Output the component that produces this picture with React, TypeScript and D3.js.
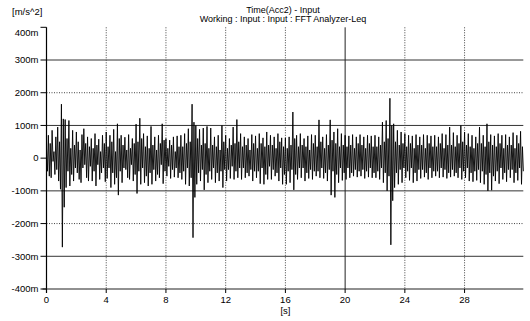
import React from "react";
import * as d3 from "d3";

// Acceleration trace, sampled every 1/16 s (values in m = milli m/s^2), one row per second
const SAMPLE_DT = 1 / 16;
const samples = [
  30, -40, 70, -55, 45, -60, 85, -10, 20, -50, 65, -35, 95, -70, 50, -95,
  165, -272, 120, -150, 118, -90, 60, -40, 115, -85, 30, -50, 85, -70, 40, -30,
  80, -45, 50, -65, 25, -75, 72, -30, 90, -20, 45, -60, 65, -70, 35, -25,
  60, -70, 30, -40, 75, -85, 40, -20, 58, -65, 20, -45, 70, -30, 45, -72,
  80, -62, 35, -30, 70, -90, 50, -45, 88, -80, 20, -60, 105, -113, 60, -40,
  70, -75, 40, -30, 64, -35, 25, -60, 72, -65, 30, -20, 60, -70, 45, -50,
  104, -108, 50, -40, 122, -80, 60, -30, 75, -75, 35, -55, 68, -85, 30, -45,
  97, -80, 40, -35, 65, -70, 25, -50, 70, -60, 45, -20, 105, -78, 55, -40,
  60, -55, 30, -25, 55, -62, 40, -35, 65, -58, 20, -30, 68, -60, 35, -45,
  70, -65, 35, -40, 75, -80, 45, -30, 90, -85, 50, -60, 165, -243, 110, -120,
  100, -80, 60, -45, 88, -70, 40, -35, 92, -97, 45, -50, 97, -75, 30, -40,
  92, -65, 40, -30, 65, -75, 35, -45, 70, -70, 25, -40, 100, -90, 50, -35,
  70, -70, 30, -35, 60, -62, 40, -25, 95, -65, 45, -40, 118, -60, 50, -30,
  75, -65, 35, -30, 65, -60, 40, -45, 60, -55, 25, -35, 72, -70, 45, -40,
  68, -60, 30, -40, 75, -78, 45, -30, 62, -80, 35, -50, 80, -65, 40, -25,
  70, -65, 40, -35, 65, -55, 30, -45, 75, -70, 50, -30, 62, -80, 35, -50,
  62, -80, 30, -40, 65, -75, 40, -35, 141, -97, 60, -50, 70, -65, 35, -30,
  75, -60, 40, -30, 60, -70, 35, -45, 68, -62, 25, -35, 72, -65, 45, -40,
  70, -55, 35, -40, 117, -60, 50, -30, 65, -62, 30, -45, 72, -70, 40, -35,
  117, -113, 55, -40, 80, -120, 45, -50, 90, -75, 35, -30, 75, -68, 40, -45,
  70, -65, 35, -30, 68, -60, 40, -45, 72, -55, 30, -35, 65, -58, 45, -40,
  72, -55, 40, -35, 65, -62, 30, -40, 70, -58, 45, -30, 68, -60, 35, -45,
  70, -60, 35, -40, 65, -65, 40, -30, 110, -75, 50, -45, 115, -100, 60, -55,
  183, -265, 100, -130, 105, -90, 50, -45, 85, -80, 40, -35, 80, -75, 45, -30,
  75, -60, 35, -40, 70, -68, 45, -30, 68, -75, 30, -45, 72, -70, 40, -35,
  65, -62, 40, -35, 72, -58, 30, -45, 70, -65, 45, -30, 68, -60, 35, -40,
  70, -55, 35, -40, 65, -60, 45, -30, 75, -58, 30, -35, 72, -62, 40, -45,
  95, -58, 40, -35, 78, -55, 35, -45, 70, -60, 45, -30, 100, -65, 50, -40,
  80, -60, 40, -30, 75, -70, 35, -45, 70, -72, 30, -40, 65, -68, 45, -35,
  95, -75, 45, -40, 70, -80, 35, -50, 105, -100, 50, -45, 72, -98, 40, -55,
  68, -70, 35, -40, 75, -78, 45, -30, 70, -65, 30, -45, 72, -72, 40, -35,
  65, -60, 40, -35, 78, -75, 30, -45, 70, -68, 45, -30, 82, -80, 35, -40,
];

const yTicks = [400, 300, 200, 100, 0, -100, -200, -300, -400];
const yTickLabels = ["400m", "300m", "200m", "100m", "0", "-100m", "-200m", "-300m", "-400m"];
const xTicks = [0, 4, 8, 12, 16, 20, 24, 28];
const solidYGrid = [300, 100, -100, -300];
const dottedYGrid = [200, -200];
const solidXGrid = [20];
const dottedXGrid = [4, 8, 12, 16, 24, 28];

const title1 = "Time(Acc2) - Input";
const title2 = "Working : Input : Input : FFT Analyzer-Leq";
const yUnit = "[m/s^2]";
const xUnit = "[s]";

const W = 530;
const H = 321;
const FONT = "'Liberation Sans', Arial, sans-serif";

export default function App() {
  const x = d3.scaleLinear().domain([0, 32]).range([46.5, 524.3]);
  const y = d3.scaleLinear().domain([-400, 400]).range([289, 27.3]);
  const x0 = x(0);
  const xEnd = x(32) - 1;

  const line = d3
    .line<number>()
    .x((_, i) => x(i * SAMPLE_DT))
    .y((d) => y(d));

  return (
    <svg
      width={W}
      height={H}
      style={{ position: "absolute", left: 0, top: 0, background: "#fff" }}
      fontFamily={FONT}
    >
      <rect width={W} height={H} fill="#fff" />
      {/* grid */}
      {solidYGrid.map((v) => (
        <line key={"sy" + v} x1={x0} x2={xEnd} y1={y(v)} y2={y(v)} stroke="#333" strokeWidth={1} />
      ))}
      {dottedYGrid.map((v) => (
        <line key={"dy" + v} x1={x0} x2={xEnd} y1={y(v)} y2={y(v)} stroke="#444" strokeWidth={1} strokeDasharray="1,1.5" />
      ))}
      {dottedXGrid.map((v) => (
        <line key={"dx" + v} x1={x(v)} x2={x(v)} y1={y(400)} y2={y(-400)} stroke="#444" strokeWidth={1} strokeDasharray="1,1.5" />
      ))}
      {solidXGrid.map((v) => (
        <line key={"sx" + v} x1={x(v)} x2={x(v)} y1={y(400)} y2={y(-400)} stroke="#222" strokeWidth={1} />
      ))}
      {/* signal */}
      <path d={line(samples) || ""} fill="none" stroke="#000" strokeWidth={0.9} />
      {/* axes */}
      <line x1={x0} x2={x0} y1={y(400)} y2={y(-400) + 4} stroke="#000" strokeWidth={1.2} />
      <line x1={x0 - 4} x2={xEnd} y1={y(-400)} y2={y(-400)} stroke="#222" strokeWidth={1.2} />
      {yTicks.map((v, i) => (
        <g key={"yt" + v}>
          <line x1={x0 - 6} x2={x0} y1={y(v)} y2={y(v)} stroke="#000" strokeWidth={1} />
          <text
            x={x0 - 8}
            y={y(v) + (v === 400 ? 5 : 0)}
            dy="0.35em"
            textAnchor="end"
            fontSize={9.5}
            fill="#000"
          >
            {yTickLabels[i]}
          </text>
        </g>
      ))}
      {xTicks.map((v) => (
        <g key={"xt" + v}>
          <line x1={x(v)} x2={x(v)} y1={y(-400)} y2={y(-400) + 4} stroke="#000" strokeWidth={1} />
          <text x={x(v)} y={303} textAnchor="middle" fontSize={9.5} fill="#000">
            {v}
          </text>
        </g>
      ))}
      <text x={x(16)} y={314} textAnchor="middle" fontSize={9.5} fill="#000">
        {xUnit}
      </text>
      <text x={12} y={15} fontSize={9.5} fill="#000">
        {yUnit}
      </text>
      <text x={283} y={12.5} textAnchor="middle" fontSize={9} fill="#000">
        {title1}
      </text>
      <text x={283} y={22} textAnchor="middle" fontSize={9} fill="#000">
        {title2}
      </text>
    </svg>
  );
}
